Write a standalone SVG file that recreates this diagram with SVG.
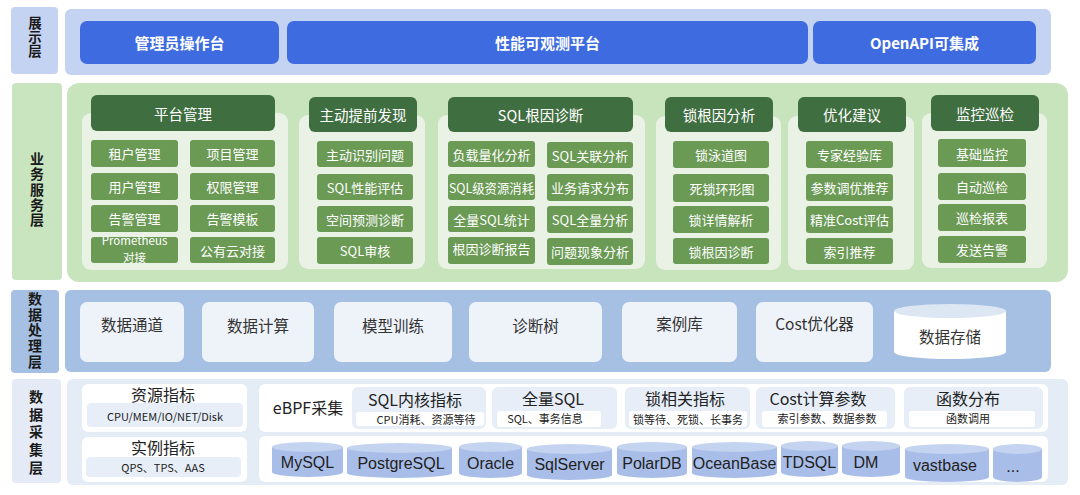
<svg xmlns="http://www.w3.org/2000/svg" width="1080" height="495" viewBox="0 0 1080 495">
<style>
text{font-family:"Noto Sans CJK SC","Noto Sans",sans-serif;dominant-baseline:central;text-anchor:middle}
.lbl{font-size:13.5px;font-weight:bold;fill:#1a1a1a;writing-mode:vertical-rl}
.btn{fill:#3e6be0}
.btnt{font-size:15px;font-weight:bold;fill:#fff}
.panel{fill:#e9f2e5}
.hdr{fill:#3f6e40}
.hdrt{font-size:14.5px;fill:#fff}
.item{fill:#6b9a55}
.itemt{font-size:13px;fill:#fff}
.pbox{fill:#eef2f9}
.pt{font-size:15.5px;fill:#333}
.wp{fill:#fff}
.sp{fill:#e7eef8}
.ct{font-size:16px;fill:#222}
.cs{font-size:11px;fill:#222}
.cyl{fill:#a8bde8}
.cyltop{fill:#c4d3ef}
.dbt{font-family:"Liberation Sans",Arial,sans-serif;font-size:16px;fill:#222}
</style>

<!-- Layer: 展示层 -->
<g id="layer-display">
<rect x="11" y="7" width="47" height="67" rx="4" fill="#c5d3f3"/>
<text class="lbl" x="35" y="37" style="letter-spacing:0.5px">展示层</text>
<rect x="65" y="9" width="986" height="66" rx="6" fill="#c5d3f3"/>
</g>
<g id="node-admin"><rect class="btn" x="80" y="21" width="199" height="43" rx="7"/><text class="btnt" x="179.5" y="42.5">管理员操作台</text></g>
<g id="node-observe"><rect class="btn" x="287" y="21" width="521" height="43" rx="7"/><text class="btnt" x="547.5" y="42.5">性能可观测平台</text></g>
<g id="node-openapi"><rect class="btn" x="813" y="21" width="223" height="43" rx="7"/><text class="btnt" x="924.5" y="42.5">OpenAPI可集成</text></g>

<!-- Layer: 业务服务层 -->
<g id="layer-business">
<rect x="12" y="83" width="50" height="197" rx="4" fill="#c9e5c0"/>
<text class="lbl" x="37" y="190" style="font-size:14px;letter-spacing:1.25px">业务服务层</text>
<rect x="67" y="83" width="1001" height="199" rx="12" fill="#c8e4bd"/>
</g>

<g id="node-platform">
<rect class="panel" x="82" y="113" width="206" height="157" rx="9"/>
<rect class="hdr" x="91" y="95" width="184" height="36" rx="6"/>
<text class="hdrt" x="183" y="113">平台管理</text>
<rect class="item" x="91" y="140" width="87" height="27" rx="3"/><text class="itemt" x="134.5" y="153.5">租户管理</text>
<rect class="item" x="91" y="173" width="87" height="27" rx="3"/><text class="itemt" x="134.5" y="186.5">用户管理</text>
<rect class="item" x="91" y="205" width="87" height="27" rx="3"/><text class="itemt" x="134.5" y="218.5">告警管理</text>
<rect class="item" x="91" y="237" width="87" height="26" rx="3"/>
<text class="itemt" x="134.5" y="240" style="font-size:11.5px">Prometheus</text>
<text class="itemt" x="134.5" y="256.5" style="font-size:11.5px">对接</text>
<rect class="item" x="190" y="140" width="85" height="27" rx="3"/><text class="itemt" x="232.5" y="153.5">项目管理</text>
<rect class="item" x="190" y="173" width="85" height="27" rx="3"/><text class="itemt" x="232.5" y="186.5">权限管理</text>
<rect class="item" x="190" y="205" width="85" height="27" rx="3"/><text class="itemt" x="232.5" y="218.5">告警模板</text>
<rect class="item" x="190" y="237" width="85" height="26" rx="3"/><text class="itemt" x="232.5" y="250">公有云对接</text>
</g>

<g id="node-proactive">
<rect class="panel" x="299" y="115" width="126" height="154" rx="9"/>
<rect class="hdr" x="309" y="97" width="108" height="35" rx="6"/>
<text class="hdrt" x="363" y="114.5">主动提前发现</text>
<rect class="item" x="317" y="141" width="96" height="26" rx="3"/><text class="itemt" x="365" y="154">主动识别问题</text>
<rect class="item" x="317" y="174" width="96" height="26" rx="3"/><text class="itemt" x="365" y="187">SQL性能评估</text>
<rect class="item" x="317" y="206" width="96" height="26" rx="3"/><text class="itemt" x="365" y="219">空间预测诊断</text>
<rect class="item" x="317" y="237" width="96" height="27" rx="3"/><text class="itemt" x="365" y="250.5">SQL审核</text>
</g>

<g id="node-sqlroot">
<rect class="panel" x="438" y="115" width="207" height="154" rx="9"/>
<rect class="hdr" x="448" y="97" width="185" height="35" rx="6"/>
<text class="hdrt" x="540.5" y="114.5">SQL根因诊断</text>
<rect class="item" x="448" y="141" width="87" height="26" rx="3"/><text class="itemt" x="491.5" y="154">负载量化分析</text>
<rect class="item" x="448" y="174" width="87" height="26" rx="3"/><text class="itemt" x="491.5" y="187" textLength="85" lengthAdjust="spacingAndGlyphs">SQL级资源消耗</text>
<rect class="item" x="448" y="206" width="87" height="26" rx="3"/><text class="itemt" x="491.5" y="219">全量SQL统计</text>
<rect class="item" x="448" y="237" width="87" height="27" rx="3"/><text class="itemt" x="491.5" y="248">根因诊断报告</text>
<rect class="item" x="547" y="142" width="86" height="26" rx="3"/><text class="itemt" x="590" y="155">SQL关联分析</text>
<rect class="item" x="547" y="174" width="86" height="27" rx="3"/><text class="itemt" x="590" y="187.5">业务请求分布</text>
<rect class="item" x="547" y="206" width="86" height="27" rx="3"/><text class="itemt" x="590" y="219.5">SQL全量分析</text>
<rect class="item" x="547" y="238" width="86" height="27" rx="3"/><text class="itemt" x="590" y="251.5">问题现象分析</text>
</g>

<g id="node-lockroot">
<rect class="panel" x="656" y="116" width="125" height="154" rx="9"/>
<rect class="hdr" x="665" y="97" width="108" height="35" rx="6"/>
<text class="hdrt" x="719" y="114.5">锁根因分析</text>
<rect class="item" x="673" y="141" width="96" height="27" rx="3"/><text class="itemt" x="721" y="154.5">锁泳道图</text>
<rect class="item" x="673" y="174" width="96" height="28" rx="3"/><text class="itemt" x="722" y="188">死锁环形图</text>
<rect class="item" x="673" y="206" width="96" height="27" rx="3"/><text class="itemt" x="721" y="219.5">锁详情解析</text>
<rect class="item" x="673" y="238" width="96" height="26" rx="3"/><text class="itemt" x="721" y="251">锁根因诊断</text>
</g>

<g id="node-optimize">
<rect class="panel" x="788" y="116" width="126" height="154" rx="9"/>
<rect class="hdr" x="798" y="97" width="108" height="35" rx="6"/>
<text class="hdrt" x="852" y="114.5">优化建议</text>
<rect class="item" x="806" y="141" width="87" height="27" rx="3"/><text class="itemt" x="849.5" y="154.5">专家经验库</text>
<rect class="item" x="806" y="174" width="87" height="27" rx="3"/><text class="itemt" x="849.5" y="187.5">参数调优推荐</text>
<rect class="item" x="806" y="206" width="87" height="27" rx="3"/><text class="itemt" x="849.5" y="219.5">精准Cost评估</text>
<rect class="item" x="806" y="238" width="87" height="26" rx="3"/><text class="itemt" x="849.5" y="251">索引推荐</text>
</g>

<g id="node-monitor">
<rect class="panel" x="922" y="113" width="125" height="155" rx="9"/>
<rect class="hdr" x="931" y="95" width="108" height="36" rx="6"/>
<text class="hdrt" x="985" y="113">监控巡检</text>
<rect class="item" x="938" y="139" width="88" height="28" rx="3"/><text class="itemt" x="982" y="153">基础监控</text>
<rect class="item" x="938" y="173" width="88" height="27" rx="3"/><text class="itemt" x="982" y="186.5">自动巡检</text>
<rect class="item" x="938" y="204" width="88" height="27" rx="3"/><text class="itemt" x="982" y="217.5">巡检报表</text>
<rect class="item" x="938" y="236" width="88" height="27" rx="3"/><text class="itemt" x="982" y="249.5">发送告警</text>
</g>

<!-- Layer: 数据处理层 -->
<g id="layer-processing">
<rect x="11" y="290" width="48" height="83" rx="4" fill="#a6c0e4"/>
<text class="lbl" x="35" y="331" style="font-size:14px;letter-spacing:1.75px">数据处理层</text>
<rect x="65" y="290" width="986" height="82" rx="6" fill="#a6c0e4"/>
</g>
<g id="node-channel"><rect class="pbox" x="80" y="302" width="104" height="60" rx="7"/><text class="pt" x="132" y="324">数据通道</text></g>
<g id="node-compute"><rect class="pbox" x="202" y="302" width="112" height="60" rx="7"/><text class="pt" x="258" y="325">数据计算</text></g>
<g id="node-train"><rect class="pbox" x="334" y="302" width="118" height="60" rx="7"/><text class="pt" x="393" y="325">模型训练</text></g>
<g id="node-tree"><rect class="pbox" x="469" y="302" width="133" height="60" rx="7"/><text class="pt" x="535.5" y="325">诊断树</text></g>
<g id="node-case"><rect class="pbox" x="622" y="302" width="115" height="60" rx="7"/><text class="pt" x="679.5" y="323">案例库</text></g>
<g id="node-cost"><rect class="pbox" x="756" y="302" width="117" height="60" rx="7"/><text class="pt" x="814.5" y="323">Cost优化器</text></g>
<g id="node-storage">
<path d="M894 311 L894 352 A56 7 0 0 0 1006 352 L1006 311 Z" fill="#fff"/>
<ellipse cx="950" cy="311" rx="56" ry="7" fill="#dde6f3"/>
<text class="pt" x="950" y="336">数据存储</text>
</g>

<!-- Layer: 数据采集层 -->
<g id="layer-collection">
<rect x="12" y="379" width="49" height="104" rx="4" fill="#e4ebf6"/>
<text class="lbl" x="36" y="434" style="font-size:14px;letter-spacing:3.75px">数据采集层</text>
<rect x="67" y="379" width="1001" height="106" rx="6" fill="#e4ecf6"/>
</g>

<g id="node-resource">
<rect class="wp" x="82" y="384" width="165" height="48" rx="6"/>
<text class="ct" x="163" y="394">资源指标</text>
<rect class="sp" x="87" y="403" width="156" height="24" rx="4"/>
<text class="cs" x="165" y="416">CPU/MEM/IO/NET/Disk</text>
</g>
<g id="node-instance">
<rect class="wp" x="82" y="437" width="165" height="45" rx="6"/>
<text class="ct" x="163" y="447">实例指标</text>
<rect class="sp" x="86" y="457" width="155" height="20" rx="4"/>
<text class="cs" x="163" y="467">QPS、TPS、AAS</text>
</g>

<g id="node-ebpf">
<rect class="wp" x="259" y="384" width="789" height="48" rx="6"/>
<text class="ct" x="308" y="407">eBPF采集</text>
</g>
<g id="node-sqlkernel">
<rect class="sp" x="352" y="387" width="134" height="42" rx="6"/>
<text class="ct" x="415" y="399">SQL内核指标</text>
<rect class="wp" x="356" y="412" width="128" height="14" rx="3"/>
<text class="cs" x="426" y="419">CPU消耗、资源等待</text>
</g>
<g id="node-fullsql">
<rect class="sp" x="492" y="387" width="125" height="42" rx="6"/>
<text class="ct" x="553" y="398">全量SQL</text>
<rect class="wp" x="497" y="411" width="104" height="16" rx="3"/>
<text class="cs" x="545" y="418">SQL、事务信息</text>
</g>
<g id="node-lockmetric">
<rect class="sp" x="625" y="387" width="125" height="42" rx="6"/>
<text class="ct" x="685" y="398">锁相关指标</text>
<rect class="wp" x="629" y="411" width="118" height="16" rx="3"/>
<text class="cs" x="688" y="419">锁等待、死锁、长事务</text>
</g>
<g id="node-costparam">
<rect class="sp" x="756" y="387" width="139" height="42" rx="6"/>
<text class="ct" x="818" y="398">Cost计算参数</text>
<rect class="wp" x="762" y="411" width="125" height="16" rx="3"/>
<text class="cs" x="827" y="418">索引参数、数据参数</text>
</g>
<g id="node-func">
<rect class="sp" x="904" y="387" width="139" height="42" rx="6"/>
<text class="ct" x="968" y="398">函数分布</text>
<rect class="wp" x="909" y="411" width="126" height="16" rx="3"/>
<text class="cs" x="968" y="418">函数调用</text>
</g>

<g id="node-dbs">
<rect class="wp" x="259" y="436" width="789" height="46" rx="6"/>
</g>
<g id="node-mysql"><path class="cyl" d="M272 447 L272 472 A35.5 5 0 0 0 343 472 L343 447 Z"/><ellipse class="cyltop" cx="307.5" cy="447" rx="35.5" ry="5"/><text class="dbt" x="307.5" y="462">MySQL</text></g>
<g id="node-pg"><path class="cyl" d="M347 448 L347 473 A52.5 5 0 0 0 452 473 L452 448 Z"/><ellipse class="cyltop" cx="399.5" cy="448" rx="52.5" ry="5"/><text class="dbt" x="401" y="463">PostgreSQL</text></g>
<g id="node-oracle"><path class="cyl" d="M459 447 L459 473 A31.5 5 0 0 0 522 473 L522 447 Z"/><ellipse class="cyltop" cx="490.5" cy="447" rx="31.5" ry="5"/><text class="dbt" x="490.5" y="463">Oracle</text></g>
<g id="node-sqlserver"><path class="cyl" d="M527 449 L527 475 A42.5 5 0 0 0 612 475 L612 449 Z"/><ellipse class="cyltop" cx="569.5" cy="449" rx="42.5" ry="5"/><text class="dbt" x="569.5" y="464">SqlServer</text></g>
<g id="node-polar"><path class="cyl" d="M617 447 L617 473 A35 5 0 0 0 687 473 L687 447 Z"/><ellipse class="cyltop" cx="652" cy="447" rx="35" ry="5"/><text class="dbt" x="652" y="463">PolarDB</text></g>
<g id="node-ocean"><path class="cyl" d="M692 447 L692 473 A42.5 5 0 0 0 777 473 L777 447 Z"/><ellipse class="cyltop" cx="734.5" cy="447" rx="42.5" ry="5"/><text class="dbt" x="734.5" y="463">OceanBase</text></g>
<g id="node-tdsql"><path class="cyl" d="M781 446 L781 472 A28.5 5 0 0 0 838 472 L838 446 Z"/><ellipse class="cyltop" cx="809.5" cy="446" rx="28.5" ry="5"/><text class="dbt" x="809.5" y="462">TDSQL</text></g>
<g id="node-dm"><path class="cyl" d="M842 446 L842 472 A29 5 0 0 0 900 472 L900 446 Z"/><ellipse class="cyltop" cx="871" cy="446" rx="29" ry="5"/><text class="dbt" x="866" y="462">DM</text></g>
<g id="node-vastbase"><path class="cyl" d="M905 449 L905 477 A42 5 0 0 0 989 477 L989 449 Z"/><ellipse class="cyltop" cx="947" cy="449" rx="42" ry="5"/><text class="dbt" x="945" y="465">vastbase</text></g>
<g id="node-more"><path class="cyl" d="M993 449 L993 477 A24.5 5 0 0 0 1042 477 L1042 449 Z"/><ellipse class="cyltop" cx="1017.5" cy="449" rx="24.5" ry="5"/><text class="dbt" x="1013" y="466">...</text></g>

<g id="connectors"/>
</svg>
